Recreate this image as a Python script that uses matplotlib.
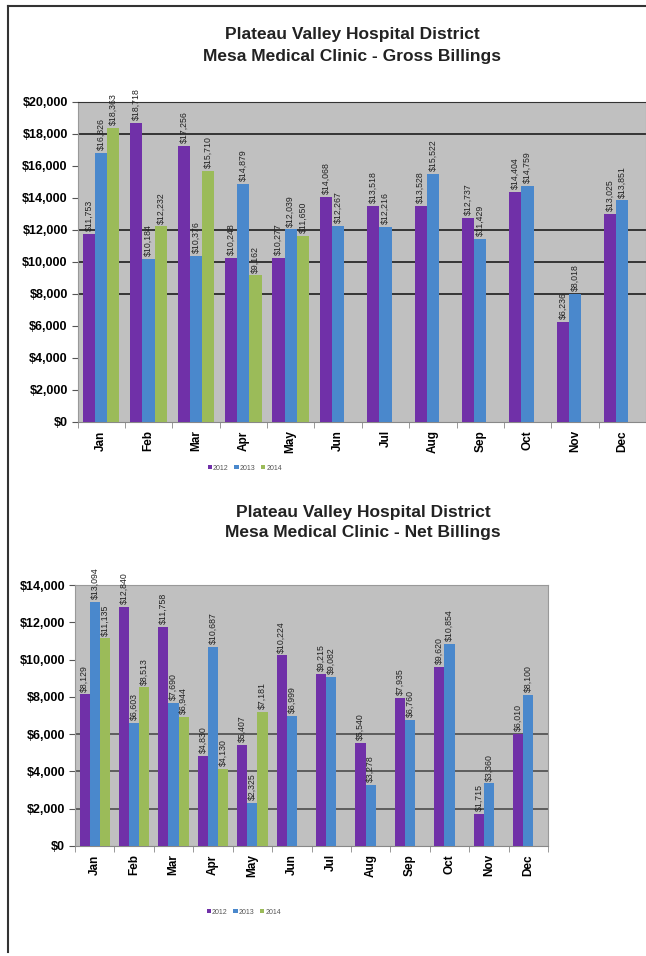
import numpy as np
import matplotlib
matplotlib.use('Agg')
import matplotlib.pyplot as plt
from matplotlib.lines import Line2D

plt.rcParams['font.family'] = ['Liberation Sans', 'DejaVu Sans']

months = ['Jan', 'Feb', 'Mar', 'Apr', 'May', 'Jun', 'Jul', 'Aug', 'Sep', 'Oct', 'Nov', 'Dec']
years = ['2012', '2013', '2014']

gross_2012 = [11753, 18718, 17256, 10248, 10277, 14068, 13518, 13528, 12737, 14404, 6236, 13025]
gross_2013 = [16826, 10184, 10376, 14879, 12039, 12267, 12216, 15522, 11429, 14759, 8018, 13851]
gross_2014 = [18363, 12232, 15710, 9162, 11650]

net_2012 = [8129, 12840, 11758, 4830, 5407, 10224, 9215, 5540, 7935, 9620, 1715, 6010]
net_2013 = [13094, 6603, 7690, 10687, 2325, 6999, 9082, 3278, 6760, 10854, 3360, 8100]
net_2014 = [11135, 8513, 6944, 4130, 7181]

colors = ['#7030A8', '#4A88CC', '#9BBB59']
W, H = 646, 956


def draw(ax, series, ymax, step, grid_levels, grid_color):
    x = np.arange(len(months))
    w = 1 / 3.9
    bars = []
    for i, vals in enumerate(series):
        xs = x[:len(vals)] + (i - 1) * w
        b = ax.bar(xs, vals, w, color=colors[i], zorder=3)
        bars.append(b)
        for xi, v in zip(xs, vals):
            ax.annotate('${:,}'.format(v), (xi, v), xytext=(0, 2), textcoords='offset points',
                        rotation=90, ha='center', va='bottom', fontsize=6.3, color='#222222',
                        annotation_clip=False, zorder=4)
    ax.set_facecolor('#C0C0C0')
    ax.set_xlim(-0.5, 11.5)
    ax.set_ylim(0, ymax)
    ax.set_yticks(np.arange(0, ymax + 1, step))
    ax.set_yticklabels(['${:,}'.format(v) for v in np.arange(0, ymax + 1, step)],
                       fontsize=9, fontweight='bold')
    for g in grid_levels:
        ax.axhline(g, color=grid_color, lw=1.3, zorder=2)
    ax.set_xticks(x)
    ax.set_xticklabels(months, rotation=90, fontsize=8.5, fontweight='bold')
    ax.set_xticks(np.arange(-0.5, 12, 1), minor=True)
    ax.tick_params(axis='x', which='major', length=0, pad=6)
    ax.tick_params(axis='x', which='minor', length=4, color='#888888')
    ax.tick_params(axis='y', length=4, color='#555555', pad=3)
    for s in ax.spines.values():
        s.set_color('#999999')
    ax.spines['bottom'].set_color('#888888')
    return bars


fig = plt.figure(figsize=(W / 100, H / 100), dpi=100)

# top chart: gross billings
ax1 = fig.add_axes([77.5 / W, 1 - 422 / H, (W - 77.5) / W, 320 / H])
bars1 = draw(ax1, [gross_2012, gross_2013, gross_2014], 20000, 2000,
             [8000, 10000, 12000, 18000], '#2a2a2a')
ax1.spines['top'].set_color('#333333')
fig.text(352 / W, 1 - 35 / H, 'Plateau Valley Hospital District', ha='center', va='center',
         fontsize=12.5, fontweight='bold', color='#222222')
fig.text(352 / W, 1 - 56 / H, 'Mesa Medical Clinic - Gross Billings', ha='center', va='center',
         fontsize=12.5, fontweight='bold', color='#222222')
fig.legend([b[0] for b in bars1], years, loc='center', bbox_to_anchor=(245 / W, 1 - 468 / H),
           ncol=3, fontsize=5, frameon=False, handlelength=0.6, handleheight=0.6,
           columnspacing=0.8, handletextpad=0.2, labelcolor='#555555')

# bottom chart: net billings
ax2 = fig.add_axes([75 / W, 1 - 846 / H, 473 / W, 261 / H])
bars2 = draw(ax2, [net_2012, net_2013, net_2014], 14000, 2000,
             [2000, 4000, 6000], '#555555')
fig.text(363 / W, 1 - 512 / H, 'Plateau Valley Hospital District', ha='center', va='center',
         fontsize=12.5, fontweight='bold', color='#222222')
fig.text(363 / W, 1 - 533 / H, 'Mesa Medical Clinic - Net Billings', ha='center', va='center',
         fontsize=12.5, fontweight='bold', color='#222222')
fig.legend([b[0] for b in bars2], years, loc='center', bbox_to_anchor=(244 / W, 1 - 912 / H),
           ncol=3, fontsize=5, frameon=False, handlelength=0.6, handleheight=0.6,
           columnspacing=0.8, handletextpad=0.2, labelcolor='#555555')

# page frame
fig.add_artist(Line2D([8 / W, 8 / W], [1 - 6 / H, 1 - 952 / H], color='#333333', lw=1.5,
                      transform=fig.transFigure))
fig.add_artist(Line2D([8 / W, 1], [1 - 6 / H, 1 - 6 / H], color='#333333', lw=1.5,
                      transform=fig.transFigure))

fig.savefig('out.png', dpi=100)
